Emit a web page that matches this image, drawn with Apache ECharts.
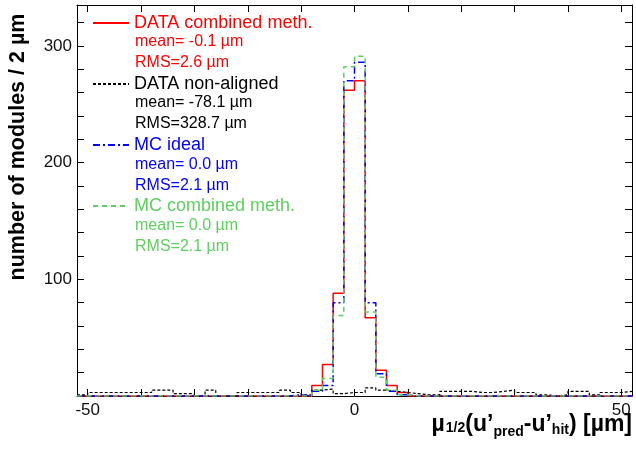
<!DOCTYPE html>
<html lang="en">
<head>
<meta charset="UTF-8">
<title>mu 1/2 residuals</title>
<script src="https://cdn.jsdelivr.net/npm/echarts@6.0.0/dist/echarts.min.js"></script>
<style>
    * { margin: 0; padding: 0 }
    html, body { width: 100%; height: 100%; background: #fff; }
    #main { width: 636px; height: 454px; }
</style>
</head>
<body>
<div id="main"></div>
<script type="text/javascript">
// histogram binning: 52 bins of 2 um from -52 to 52
var binStart = -52;
var binWidth = 2;

var seriesNames = ['DATA combined meth.', 'DATA non-aligned', 'MC ideal', 'MC combined meth.'];
var seriesColors = ['#ff0000', '#000000', '#0000ff', '#5fcf5f'];
var meanLabels = ['mean= -0.1 \u00b5m', 'mean= -78.1 \u00b5m', 'mean= 0.0 \u00b5m', 'mean= 0.0 \u00b5m'];
var rmsLabels = ['RMS=2.6 \u00b5m', 'RMS=328.7 \u00b5m', 'RMS=2.1 \u00b5m', 'RMS=2.1 \u00b5m'];

var dataCombined = [
    0, 0, 0, 0, 0, 0, 0, 0, 0, 0, 0, 0, 0,
    0, 0, 0, 0, 0, 0, 0, 0, 0, 9, 27, 88, 262,
    270, 67, 22, 9, 3, 0, 0, 0, 0, 0, 0, 0, 0,
    0, 0, 0, 0, 0, 0, 0, 0, 0, 0, 0, 0, 0
];
var dataNonAligned = [
    1, 3, 3, 3, 3, 3, 3, 5, 5, 2, 2, 0, 5,
    0, 0, 3, 3, 3, 3, 5, 3, 1, 5, 6, 2, 3,
    3, 7, 5, 4, 3, 2, 1, 1, 4, 4, 4, 3, 3,
    4, 5, 3, 3, 1, 0, 1, 4, 4, 1, 3, 3, 4
];
var mcIdeal = [
    0, 0, 0, 0, 0, 0, 0, 0, 0, 0, 0, 0, 0,
    0, 0, 0, 0, 0, 0, 0, 1, 0, 4, 9, 80, 270,
    286, 80, 19, 4, 1, 0, 0, 0, 0, 0, 0, 0, 0,
    0, 0, 0, 0, 0, 0, 0, 0, 0, 0, 0, 0, 0
];
var mcCombined = [
    0, 0, 0, 0, 0, 0, 0, 0, 0, 0, 0, 0, 0,
    0, 0, 0, 0, 0, 0, 0, 0, 0, 5, 15, 69, 282,
    291, 72, 16, 5, 1, 0, 0, 0, 0, 0, 0, 0, 0,
    0, 0, 0, 0, 0, 0, 0, 0, 0, 0, 0, 0, 0
];

var yTickLabels = [100, 200, 300];
var xTickLabels = [-50, 0, 50];

// bin contents -> step outline points at the bin edges
function toSteps(vals) {
    var pts = [];
    for (var i = 0; i < vals.length; i++) {
        pts.push([binStart + i * binWidth, vals[i]]);
    }
    pts.push([binStart + vals.length * binWidth, vals[vals.length - 1]]);
    return pts;
}

var font = 'Liberation Sans, Arial, sans-serif';
var lineTypes = ['solid', [3, 2], [7, 3, 2, 3], [5, 4]];
var allData = [dataCombined, dataNonAligned, mcIdeal, mcCombined];

var series = seriesNames.map(function (name, k) {
    return {
        name: name,
        type: 'line',
        step: 'end',
        symbol: 'none',
        data: toSteps(allData[k]),
        lineStyle: { color: seriesColors[k], width: k === 1 ? 1.2 : 1.5, type: lineTypes[k] },
        itemStyle: { color: seriesColors[k] }
    };
});

var graphics = [];
for (var k = 0; k < seriesNames.length; k++) {
    var yc = 22 + 61.3 * k;
    graphics.push({
        type: 'text', x: 135, y: yc + 19.5,
        style: { text: meanLabels[k], fill: seriesColors[k], font: '16px ' + font, verticalAlign: 'middle' }
    });
    graphics.push({
        type: 'text', x: 135, y: yc + 40.5,
        style: { text: rmsLabels[k], fill: seriesColors[k], font: '16px ' + font, verticalAlign: 'middle' }
    });
}
// y axis title
graphics.push({
    type: 'text', x: 18, y: 147, rotation: Math.PI / 2,
    style: {
        text: 'number of modules / 2 \u00b5m', fill: '#000',
        font: 'bold 21.5px ' + font, align: 'center', verticalAlign: 'middle'
    }
});
// x axis title with subscripts
var subStyle = { fontSize: 14, fontWeight: 'bold', fontFamily: font, verticalAlign: 'top' };
graphics.push({
    type: 'text', right: 4, top: 413,
    style: {
        text: '{m|\u00b5}{a|1/2}{m|(u\u2019}{b|pred}{m|-u\u2019}{c|hit}{m|) [\u00b5m]}',
        fill: '#000',
        rich: {
            m: { fontSize: 23, fontWeight: 'bold', fontFamily: font, verticalAlign: 'top' },
            a: Object.assign({ padding: [8, 0, 0, 1] }, subStyle),
            b: Object.assign({ padding: [12, 0, 0, 0] }, subStyle),
            c: Object.assign({ padding: [10, 0, 0, 0] }, subStyle)
        }
    }
});

var axisCommon = {
    axisLine: { show: true, onZero: false, lineStyle: { color: '#000', width: 1 } },
    axisTick: { show: true, inside: true, length: 7, lineStyle: { color: '#000' } },
    splitLine: { show: false }
};

function xAxisDef(pos, showLabels) {
    return Object.assign({
        type: 'value', position: pos, min: -52, max: 52,
        splitNumber: 10, minInterval: 10, maxInterval: 10,
        axisLabel: {
            show: showLabels, fontSize: 17, fontFamily: font, color: '#111', margin: 6,
            showMinLabel: false, showMaxLabel: false,
            formatter: function (v) { return xTickLabels.indexOf(v) >= 0 ? String(v) : ''; }
        }
    }, axisCommon);
}
function yAxisDef(pos, showLabels) {
    return Object.assign({
        type: 'value', position: pos, min: 0, max: 335, interval: 20,
        axisLabel: {
            show: showLabels, fontSize: 17, fontFamily: font, color: '#111', margin: 5,
            formatter: function (v) { return yTickLabels.indexOf(v) >= 0 ? String(v) : ''; }
        }
    }, axisCommon);
}

var myChart = echarts.init(document.getElementById('main'));
var option = {
    animation: false,
    backgroundColor: '#fff',
    grid: { left: 77, right: 4, top: 5, bottom: 58, outerBoundsMode: 'none' },
    xAxis: [xAxisDef('bottom', true), xAxisDef('top', false)],
    yAxis: [yAxisDef('left', true), yAxisDef('right', false)],
    legend: {
        orient: 'vertical', left: 87, top: 8,
        itemWidth: 36, itemHeight: 14, itemGap: 41,
        selectedMode: false,
        itemStyle: { color: 'transparent', borderColor: 'transparent', borderWidth: 0, opacity: 0 },
        textStyle: { fontSize: 18, fontFamily: font, lineHeight: 20 },
        data: seriesNames.map(function (n, k) {
            return { name: n, textStyle: { color: seriesColors[k] } };
        })
    },
    graphic: graphics,
    series: series
};
myChart.setOption(option);
</script>
</body>
</html>
